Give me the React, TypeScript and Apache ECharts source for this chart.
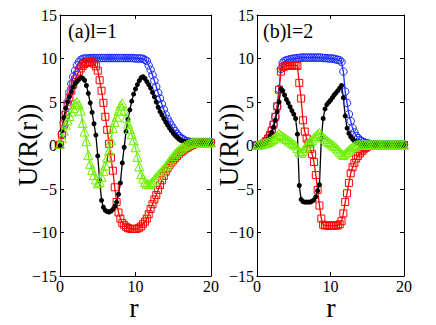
import React, { useEffect, useRef } from "react";
import * as echarts from "echarts";

// r grid shared by both panels
const R = [0,0.25,0.5,0.75,1,1.25,1.5,1.75,2,2.25,2.5,2.75,3,3.25,3.5,3.75,4,4.25,4.5,4.75,5,5.25,5.5,5.75,6,6.25,6.5,6.75,7,7.25,7.5,7.75,8,8.25,8.5,8.75,9,9.25,9.5,9.75,10,10.25,10.5,10.75,11,11.25,11.5,11.75,12,12.25,12.5,12.75,13,13.25,13.5,13.75,14,14.25,14.5,14.75,15,15.25,15.5,15.75,16,16.25,16.5,16.75,17,17.25,17.5,17.75,18,18.25,18.5,18.75,19,19.25,19.5,19.75,20];

// panel (a) l=1
const BLUE_A = [
  0.1, 1.3, 2.6, 3.8, 5.0, 6.1, 7.1, 7.9,
  8.6, 9.2, 9.6, 9.85, 9.95, 10.0, 10.0, 10.0,
  10.05, 10.05, 10.05, 10.05, 10.05, 10.05, 10.05, 10.05,
  10.05, 10.05, 10.05, 10.05, 10.05, 10.05, 10.05, 10.05,
  10.05, 10.05, 10.05, 10.05, 10.05, 10.05, 10.05, 10.05,
  10.0, 10.0, 10.0, 10.0, 9.95, 9.85, 9.7, 9.2,
  8.7, 8.1, 7.45, 6.75, 6.05, 5.4, 4.75, 4.15,
  3.55, 3.05, 2.65, 2.3, 1.95, 1.65, 1.35, 1.1,
  0.9, 0.75, 0.6, 0.5, 0.45, 0.4, 0.4, 0.4,
  0.4, 0.4, 0.4, 0.4, 0.4, 0.4, 0.4, 0.4,
  0.4,
];
const RED_A = [
  0.1, 1.2, 2.4, 3.5, 4.6, 5.5, 6.3, 7.0,
  7.6, 8.1, 8.5, 8.85, 9.15, 9.35, 9.5, 9.6,
  9.6, 9.55, 9.4, 9.1, 8.6, 7.5, 6.3, 4.9,
  3.3, 1.8, 0.2, -1.4, -2.9, -4.8, -6.5, -7.7,
  -8.4, -8.9, -9.15, -9.35, -9.5, -9.55, -9.6, -9.6,
  -9.6, -9.55, -9.45, -9.3, -9.0, -8.75, -8.4, -7.9,
  -7.3, -6.75, -6.2, -5.7, -5.1, -4.55, -4.0, -3.5,
  -3.0, -2.6, -2.25, -1.95, -1.7, -1.45, -1.2, -0.95,
  -0.75, -0.6, -0.45, -0.3, -0.2, -0.05, 0.05, 0.15,
  0.25, 0.3, 0.3, 0.3, 0.3, 0.3, 0.3, 0.3,
  0.3,
];
const BLACK_A = [
  0.0, 1.7, 3.2, 4.3, 5.0, 5.6, 6.2, 6.7,
  7.1, 7.35, 7.6, 7.8, 7.75, 7.5, 6.9, 6.0,
  4.9, 3.8, 2.5, 1.2, -1.2, -4.0, -6.3, -7.1,
  -7.45, -7.6, -7.65, -7.55, -7.35, -7.0, -6.5, -5.6,
  -4.3, -2.0, -0.2, 1.6, 3.0, 4.1, 5.1, 5.9,
  6.5, 7.0, 7.45, 7.8, 7.9, 7.7, 7.35, 7.0,
  6.6, 6.1, 5.6, 5.0, 4.4, 3.9, 3.5, 3.1,
  2.7, 2.35, 2.0, 1.7, 1.4, 1.15, 0.95, 0.75,
  0.6, 0.5, 0.45, 0.4, 0.4, 0.4, 0.4, 0.4,
  0.4, 0.4, 0.4, 0.4, 0.4, 0.4, 0.4, 0.4,
  0.4,
];
const GREEN_A = [
  0.2, 0.9, 1.7, 2.4, 2.9, 3.4, 3.9, 4.3,
  4.8, 5.0, 4.7, 4.0, 2.6, 1.6, 0.5, -1.1,
  -2.1, -2.8, -3.4, -3.9, -4.35, -4.2, -3.6, -2.9,
  -2.3, -1.4, -0.6, 0.6, 2.0, 2.7, 3.3, 4.0,
  4.6, 4.85, 4.0, 3.2, 2.5, 1.9, 1.3, 0.6,
  -0.2, -1.3, -2.4, -3.3, -3.8, -4.2, -4.4, -4.45,
  -4.35, -4.15, -3.9, -3.65, -3.4, -3.15, -2.9, -2.65,
  -2.4, -2.1, -1.8, -1.5, -1.2, -0.95, -0.75, -0.55,
  -0.35, -0.2, -0.05, 0.05, 0.15, 0.25, 0.3, 0.35,
  0.35, 0.35, 0.35, 0.35, 0.35, 0.35, 0.35, 0.35,
  0.35,
];

// panel (b) l=2
const BLUE_B = [
  0.05, 0.05, 0.05, 0.1, 0.3, 0.5, 0.8, 1.2,
  1.7, 2.4, 3.3, 4.5, 6.5, 8.8, 9.5, 9.7,
  9.8, 9.85, 9.9, 9.95, 10.0, 10.0, 10.05, 10.05,
  10.1, 10.1, 10.1, 10.1, 10.1, 10.1, 10.1, 10.1,
  10.1, 10.1, 10.1, 10.1, 10.05, 10.05, 10.05, 10.0,
  10.0, 10.0, 9.95, 9.9, 9.85, 9.8, 9.6, 8.5,
  6.2, 4.9, 3.6, 2.8, 2.0, 1.5, 1.1, 0.85,
  0.65, 0.5, 0.4, 0.3, 0.25, 0.2, 0.15, 0.12,
  0.1, 0.1, 0.1, 0.1, 0.1, 0.1, 0.1, 0.1,
  0.1, 0.1, 0.1, 0.1, 0.1, 0.1, 0.1, 0.1,
  0.1,
];
const RED_B = [
  0.05, 0.05, 0.05, 0.1, 0.3, 0.5, 0.8, 1.2,
  1.7, 2.4, 3.3, 4.5, 6.4, 8.5, 9.0, 9.1,
  9.15, 9.2, 9.2, 9.2, 9.2, 9.2, 9.15, 7.2,
  5.4, 2.9, 1.6, 0.8, 0.25, -0.4, -1.0, -1.9,
  -3.4, -5.1, -6.9, -8.4, -9.1, -9.2, -9.2, -9.2,
  -9.2, -9.2, -9.2, -9.2, -9.2, -9.05, -8.7, -7.8,
  -6.5, -5.5, -4.3, -3.2, -2.5, -2.0, -1.5, -1.2,
  -0.9, -0.65, -0.45, -0.3, -0.15, -0.05, 0.0, 0.05,
  0.05, 0.05, 0.05, 0.05, 0.05, 0.05, 0.05, 0.05,
  0.05, 0.05, 0.05, 0.05, 0.05, 0.05, 0.05, 0.05,
  0.05,
];
const BLACK_B = [
  0.05, 0.05, 0.05, 0.1, 0.25, 0.45, 0.7, 1.05,
  1.5, 2.1, 2.9, 3.9, 5.0, 6.5, 6.3, 5.8,
  5.3, 4.9, 4.45, 4.0, 3.6, 3.1, 1.3, -4.6,
  -6.2, -6.45, -6.5, -6.5, -6.5, -6.5, -6.4, -6.25,
  -5.9, -5.2, -4.5, 0.8, 3.1, 4.2, 4.7, 4.95,
  5.2, 5.5, 5.8, 6.05, 6.3, 6.6, 6.9, 5.5,
  3.4, 2.0, 1.4, 1.0, 0.75, 0.55, 0.4, 0.3,
  0.25, 0.2, 0.15, 0.1, 0.1, 0.1, 0.1, 0.1,
  0.1, 0.1, 0.1, 0.1, 0.1, 0.1, 0.1, 0.1,
  0.1, 0.1, 0.1, 0.1, 0.1, 0.1, 0.1, 0.1,
  0.1,
];
const GREEN_B = [
  0.05, 0.1, 0.15, 0.2, 0.25, 0.3, 0.4, 0.5,
  0.6, 0.75, 0.9, 1.1, 1.35, 1.2, 1.05, 0.9,
  0.75, 0.6, 0.45, 0.3, 0.15, 0.0, -0.3, -0.7,
  -0.85, -0.6, -0.3, 0.0, 0.25, 0.45, 0.65, 0.9,
  1.1, 1.3, 1.45, 1.2, 0.95, 0.75, 0.55, 0.4,
  0.25, 0.1, -0.05, -0.25, -0.45, -0.7, -0.95, -1.1,
  -0.95, -0.75, -0.55, -0.35, -0.2, -0.05, 0.05, 0.1,
  0.1, 0.1, 0.1, 0.1, 0.1, 0.1, 0.1, 0.1,
  0.1, 0.1, 0.1, 0.1, 0.1, 0.1, 0.1, 0.1,
  0.1, 0.1, 0.1, 0.1, 0.1, 0.1, 0.1, 0.1,
  0.1,
];

const PANEL_LABELS = ["(a)l=1", "(b)l=2"];
const Y_NAME = "U(R(r))";
const X_NAME = "r";

const SERIF = "'Liberation Serif', 'DejaVu Serif', serif";
const BLUE = "#1a2cff";
const RED = "#ff0000";
const BLACK = "#000000";
const GREEN = "#6cf000";

function pairs(vals: number[]) {
  return R.map((r, i) => [r, vals[i]]);
}

function mkSeries(vals: number[], axisIdx: number, color: string, symbol: string, size: number, filled: boolean) {
  return {
    type: "line",
    xAxisIndex: axisIdx,
    yAxisIndex: axisIdx,
    data: pairs(vals),
    symbol,
    symbolSize: size,
    showSymbol: true,
    showAllSymbol: true,
    lineStyle: { color, width: 1.3 },
    itemStyle: {
      color: filled ? color : "rgba(255,255,255,0)",
      borderColor: color,
      borderWidth: filled ? 0 : 1,
    },
    emphasis: { disabled: true },
    silent: true,
  };
}

function xAxes(grid: number) {
  const common = {
    type: "value",
    gridIndex: grid,
    min: 0,
    max: 20,
    interval: 10,
    splitLine: { show: false },
    axisLine: { show: true, onZero: false, lineStyle: { color: "#000", width: 1 } },
    axisTick: { show: true, inside: true, length: 4, lineStyle: { color: "#000" } },
  };
  return [
    {
      ...common,
      position: "bottom",
      axisLabel: { show: true, color: "#000", fontSize: 16, lineHeight: 14, fontFamily: SERIF, margin: 3 },
    },
    { ...common, position: "top", axisLabel: { show: false } },
  ];
}

function yAxes(grid: number) {
  const common = {
    type: "value",
    gridIndex: grid,
    min: -15,
    max: 15,
    interval: 5,
    splitLine: { show: false },
    axisLine: { show: true, onZero: false, lineStyle: { color: "#000", width: 1 } },
    axisTick: { show: true, inside: true, length: 4, lineStyle: { color: "#000" } },
  };
  return [
    {
      ...common,
      position: "left",
      axisLabel: {
        show: true,
        color: "#000",
        fontSize: 16,
        fontFamily: SERIF,
        margin: 3,
        formatter: (v: number) => String(v).replace("-", "\u2212"),
      },
    },
    { ...common, position: "right", axisLabel: { show: false } },
  ];
}

function txt(x: number, y: number, text: string, size: number, align: string, rotation = 0) {
  return {
    type: "text",
    x,
    y,
    rotation,
    style: {
      text,
      font: `${size}px ${SERIF}`,
      fill: "#000",
      textAlign: align,
      textVerticalAlign: "middle",
    },
  };
}

export default function App() {
  const ref = useRef<HTMLDivElement>(null);
  useEffect(() => {
    if (!ref.current) return;
    const chart = echarts.init(ref.current, null, { renderer: "svg" });
    const option: any = {
      animation: false,
      backgroundColor: "#ffffff",
      grid: [
        { left: 60, top: 15, width: 151, height: 261 },
        { left: 257, top: 15, width: 147, height: 261 },
      ],
      xAxis: [...xAxes(0), ...xAxes(1)],
      yAxis: [...yAxes(0), ...yAxes(1)],
      series: [
        mkSeries(BLUE_A, 0, BLUE, "circle", 7.5, false),
        mkSeries(RED_A, 0, RED, "rect", 7, false),
        mkSeries(BLACK_A, 0, BLACK, "circle", 5, true),
        mkSeries(GREEN_A, 0, GREEN, "triangle", 9, false),
        mkSeries(BLUE_B, 2, BLUE, "circle", 7.5, false),
        mkSeries(RED_B, 2, RED, "rect", 7, false),
        mkSeries(BLACK_B, 2, BLACK, "circle", 5, true),
        mkSeries(GREEN_B, 2, GREEN, "triangle", 9, false),
      ],
      graphic: [
        txt(68, 31, PANEL_LABELS[0], 20, "left"),
        txt(263, 31, PANEL_LABELS[1], 20, "left"),
        txt(28, 145, Y_NAME, 27, "center", Math.PI / 2),
        txt(229, 145, Y_NAME, 27, "center", Math.PI / 2),
        txt(134, 307, X_NAME, 28, "center"),
        txt(331, 307, X_NAME, 28, "center"),
      ],
    };
    chart.setOption(option);
    return () => chart.dispose();
  }, []);
  return (
    <div
      ref={ref}
      style={{ position: "fixed", left: 0, top: 0, width: 436, height: 325, background: "#fff" }}
    />
  );
}
